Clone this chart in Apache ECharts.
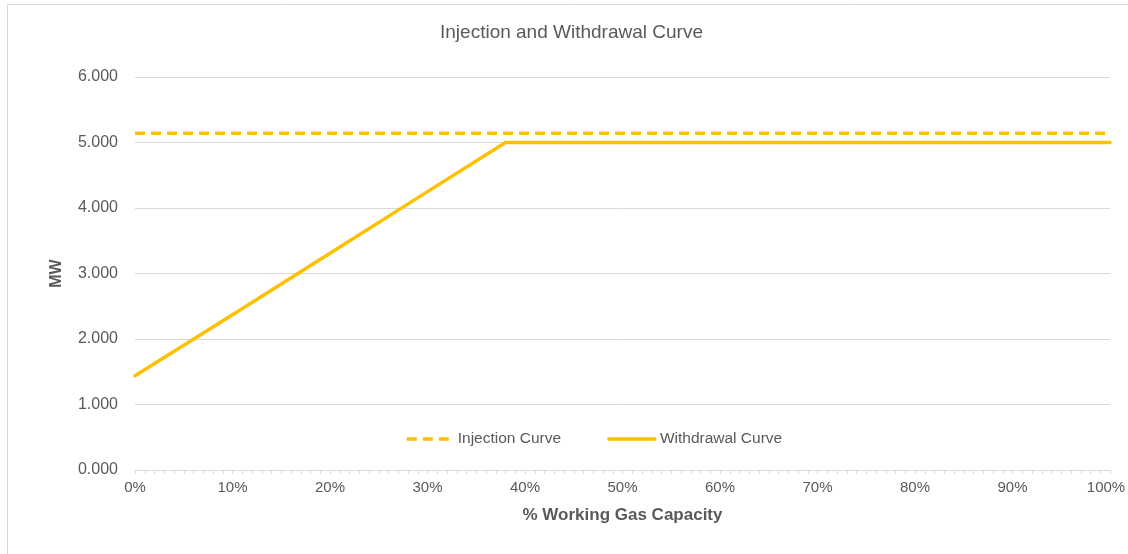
<!DOCTYPE html>
<html>
<head>
<meta charset="utf-8">
<script src="https://cdn.jsdelivr.net/npm/echarts@6/dist/echarts.min.js"></script>
<style>
	html, body { margin: 0; padding: 0; background: #fff; }
	#chart { width: 1128px; height: 554px; }
</style>
</head>
<body>
<div id="chart"></div>
<script>
	// data
	var injectionX = [0, 100];
	var injectionY = [5.14, 5.14];
	var withdrawalX = [0, 10, 20, 30, 38, 100];
	var withdrawalY = [1.44, 2.37, 3.31, 4.25, 5.0, 5.0];

	function pairs(xs, ys) {
		var out = [];
		for (var i = 0; i < xs.length; i++) {
			out.push([xs[i], ys[i]]);
		}
		return out;
	}

	var gold = '#FFC000';
	var txt = '#595959';
	var font = '"Liberation Sans", Arial, sans-serif';

	var myChart = echarts.init(document.getElementById('chart'));
	var option = {
		animation: false,
		textStyle: { fontFamily: font },
		graphic: [{
			type: 'rect',
			shape: { x: 7.5, y: 4.5, width: 1200, height: 600 },
			style: { fill: 'none', stroke: '#d9d9d9', lineWidth: 1 },
			silent: true
		}],
		title: {
			text: 'Injection and Withdrawal Curve',
			left: 435,
			top: 18,
			textStyle: { color: txt, fontSize: 19, fontWeight: 'normal', fontFamily: font }
		},
		legend: {
			left: 400,
			top: 426,
			itemWidth: 46,
			itemHeight: 14,
			itemGap: 46,
			itemStyle: { opacity: 0 },
			lineStyle: { width: 3.5 },
			textStyle: { color: txt, fontSize: 15.5, fontFamily: font },
			data: ['Injection Curve', 'Withdrawal Curve']
		},
		grid: { left: 135, right: 18, top: 77, bottom: 84, outerBoundsMode: 'none' },
		xAxis: {
			type: 'value',
			min: 0,
			max: 100,
			interval: 10,
			name: '% Working Gas Capacity',
			nameLocation: 'middle',
			nameGap: 37,
			nameTextStyle: { color: txt, fontSize: 17, fontWeight: 'bold', fontFamily: font },
			axisLine: { show: true, lineStyle: { color: '#d9d9d9', width: 1 } },
			axisTick: { show: true, length: 4, lineStyle: { color: '#d9d9d9' } },
			minorTick: { show: true, splitNumber: 10, length: 4, lineStyle: { color: '#d9d9d9' } },
			splitLine: { show: false },
			axisLabel: {
				color: txt, fontSize: 15, margin: 10,
				formatter: function(v) {
					// the last label sits a bit inside the frame, like in the original
					return v === 100 ? '{last|100%}' : v + '%';
				},
				rich: {
					last: { color: txt, fontSize: 15, fontFamily: font, padding: [0, 8, 0, 0] }
				}
			}
		},
		yAxis: {
			type: 'value',
			min: 0,
			max: 6,
			interval: 1,
			name: 'MW',
			nameLocation: 'middle',
			nameGap: 70,
			nameTextStyle: { color: txt, fontSize: 16, fontWeight: 'bold', fontFamily: font },
			axisLine: { show: false },
			axisTick: { show: false },
			splitLine: { lineStyle: { color: '#d9d9d9', width: 1 } },
			axisLabel: {
				color: txt, fontSize: 16, margin: 17,
				formatter: function(v) { return v.toFixed(3); }
			}
		},
		series: [
			{
				name: 'Injection Curve',
				type: 'line',
				data: pairs(injectionX, injectionY),
				symbol: 'none',
				lineStyle: { color: gold, width: 3.5, type: [10, 6] },
				itemStyle: { color: gold }
			},
			{
				name: 'Withdrawal Curve',
				type: 'line',
				data: pairs(withdrawalX, withdrawalY),
				symbol: 'none',
				lineStyle: { color: gold, width: 3.5, cap: 'round', join: 'round' },
				itemStyle: { color: gold }
			}
		]
	};
	myChart.setOption(option);
</script>
</body>
</html>
